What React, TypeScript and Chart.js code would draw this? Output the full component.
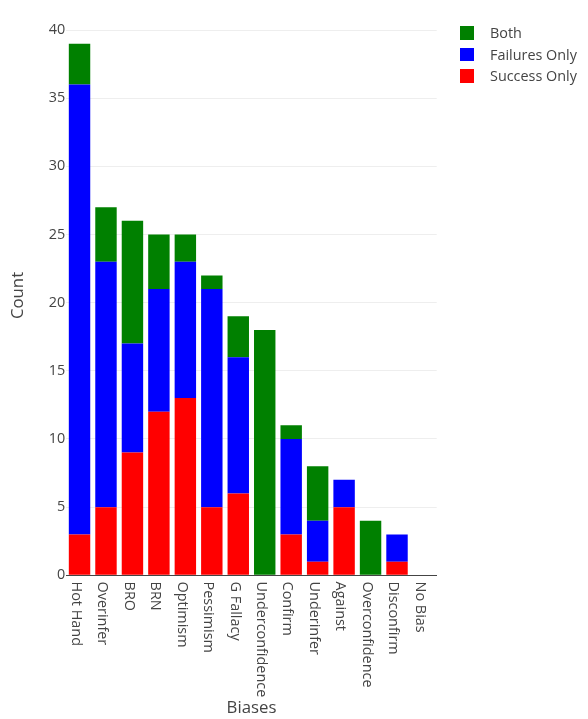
import React, { useEffect, useRef } from "react";
import { Chart, registerables } from "chart.js";

Chart.register(...registerables);

const categories = [
  "Hot Hand", "Overinfer", "BRO", "BRN", "Optimism", "Pessimism", "G Fallacy",
  "Underconfidence", "Confirm", "Underinfer", "Against", "Overconfidence", "Disconfirm", "No Bias",
];
const successOnly = [3, 5, 9, 12, 13, 5, 6, 0, 3, 1, 5, 0, 1, 0];
const failuresOnly = [33, 18, 8, 9, 10, 16, 10, 0, 7, 3, 2, 0, 2, 0];
const both = [3, 4, 9, 4, 2, 1, 3, 18, 1, 4, 0, 4, 0, 0];
const yTicks = [0, 5, 10, 15, 20, 25, 30, 35, 40];
const yMax = 41.05;

const FONT = '"Open Sans", verdana, arial, sans-serif';
const TEXT = "#444";

const legendItems = [
  { label: "Both", color: "#008000" },
  { label: "Failures Only", color: "#0000ff" },
  { label: "Success Only", color: "#ff0000" },
];

const xLabelPlugin = {
  id: "xLabelsRotated",
  afterDraw(chart: any) {
    const xs = chart.scales.x;
    const ctx = chart.ctx;
    ctx.save();
    ctx.font = `14.4px ${FONT}`;
    ctx.fillStyle = TEXT;
    ctx.textAlign = "left";
    ctx.textBaseline = "alphabetic";
    categories.forEach((lab, i) => {
      const x = xs.getPixelForTick(i);
      ctx.save();
      ctx.translate(x, xs.top + 6.3);
      ctx.rotate(Math.PI / 2);
      ctx.fillText(lab, 0, 7.7);
      ctx.restore();
    });
    ctx.restore();
  },
};

export default function App() {
  const ref = useRef<HTMLCanvasElement | null>(null);
  useEffect(() => {
    if (!ref.current) return;
    const chart = new Chart(ref.current, {
      type: "bar",
      data: {
        labels: categories,
        datasets: [
          { label: "Success Only", data: successOnly, backgroundColor: "#ff0000", borderWidth: 0 },
          { label: "Failures Only", data: failuresOnly, backgroundColor: "#0000ff", borderWidth: 0 },
          { label: "Both", data: both, backgroundColor: "#008000", borderWidth: 0 },
        ],
      },
      options: {
        animation: false,
        responsive: true,
        maintainAspectRatio: false,
        datasets: { bar: { categoryPercentage: 1, barPercentage: 0.81 } },
        layout: { padding: { top: 7.7, right: 143.3, left: 0, bottom: 0 } },
        plugins: { legend: { display: false }, tooltip: { enabled: false } },
        scales: {
          x: {
            stacked: true,
            grid: { display: false },
            border: { display: true, color: "#444", width: 1 },
            ticks: { display: false },
            title: {
              display: true,
              text: "Biases",
              color: TEXT,
              font: { family: FONT, size: 16.8 },
              padding: { top: 0, bottom: 1 },
            },
            afterFit(scale: any) {
              scale.height = 143.7;
              scale.paddingLeft = 0;
              scale.paddingRight = 0;
            },
          },
          y: {
            stacked: true,
            min: 0,
            max: yMax,
            grid: { color: "#eee", lineWidth: 1, drawTicks: false },
            border: { display: false },
            ticks: {
              color: TEXT,
              font: { family: FONT, size: 14.4 },
              padding: 1,
            },
            afterBuildTicks(scale: any) {
              scale.ticks = yTicks.map((v) => ({ value: v }));
            },
            title: {
              display: true,
              text: "Count",
              color: TEXT,
              font: { family: FONT, size: 16.8 },
              padding: { top: 0, bottom: 0 },
            },
            afterFit(scale: any) {
              scale.width = 58.3;
              scale.paddingTop = 0;
              scale.paddingBottom = 0;
            },
          },
        },
      },
      plugins: [xLabelPlugin],
    });
    return () => chart.destroy();
  }, []);

  return (
    <div style={{ position: "relative", width: 572, height: 711 }}>
      <canvas ref={ref} />
      <div style={{ position: "absolute", left: 452, top: 14.2, fontFamily: FONT, fontSize: 14.4, color: TEXT }}>
        {legendItems.map((it) => (
          <div key={it.label} style={{ display: "flex", alignItems: "center", height: 21.6 }}>
            <span style={{ display: "inline-block", width: 13.5, height: 13.5, background: it.color, marginRight: 16.5 }} />
            <span style={{ lineHeight: "21.6px", whiteSpace: "nowrap" }}>{it.label}</span>
          </div>
        ))}
      </div>
    </div>
  );
}
